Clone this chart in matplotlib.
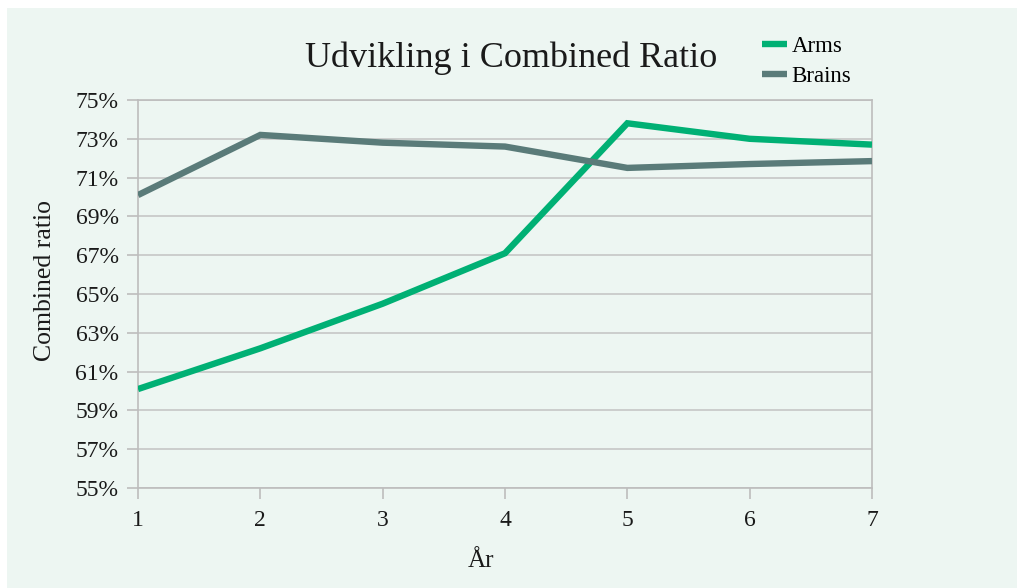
import matplotlib
matplotlib.use("Agg")
import matplotlib.pyplot as plt
from matplotlib.patches import Rectangle
from matplotlib.ticker import FuncFormatter

years = [1, 2, 3, 4, 5, 6, 7]
arms = [60.1, 62.2, 64.5, 67.1, 73.8, 73.0, 72.7]
brains = [70.1, 73.2, 72.8, 72.6, 71.5, 71.7, 71.85]
yticks = list(range(55, 76, 2))

plt.rcParams['font.family'] = ['Liberation Serif', 'DejaVu Serif']

W, H = 1017, 588
fig = plt.figure(figsize=(W / 100, H / 100), dpi=100)
fig.patch.set_facecolor('white')
bg = '#EDF6F2'
fig.patches.append(Rectangle((7 / W, 0), 1, (H - 8) / H, transform=fig.transFigure,
                             facecolor=bg, edgecolor='none', zorder=-10))

ax = fig.add_axes([138 / W, 1 - 488 / H, (872 - 138) / W, (488 - 100) / H])
ax.set_zorder(1)
ax.set_facecolor(bg)
ax.plot(years, arms, color='#00B074', lw=4.6, solid_capstyle='butt', solid_joinstyle='miter', label='Arms', zorder=3)
ax.plot(years, brains, color='#5A7B79', lw=4.6, solid_capstyle='butt', solid_joinstyle='miter', label='Brains', zorder=3)

ax.set_xlim(1, 7)
ax.set_ylim(55, 75)
ax.set_xticks(years)
ax.set_yticks(yticks)
ax.yaxis.set_major_formatter(FuncFormatter(lambda v, p: f"{int(v)}%"))
ax.grid(axis='y', color='#C6C6C6', lw=1.2)
ax.set_axisbelow(True)
for s in ax.spines.values():
    s.set_color('#BDBDBD')
    s.set_linewidth(1.2)
ax.tick_params(axis='both', colors='#BDBDBD', labelcolor='#1a1a1a', length=8, width=1.2, labelsize=17)
ax.tick_params(axis='x', pad=8)
ax.tick_params(axis='y', pad=6)

fig.text(511 / W, 1 - 58 / H, 'Udvikling i Combined Ratio', ha='center', va='center', fontsize=26, color='#1a1a1a')
fig.text(45 / W, 1 - 281 / H, 'Combined ratio', ha='center', va='center', rotation=90, fontsize=18.5, color='#1a1a1a')
fig.text(481 / W, 1 - 561 / H, 'År', ha='center', va='center', fontsize=18, color='#1a1a1a')

leg = ax.legend(loc='upper left', bbox_to_anchor=(762 / W, 1 - 36 / H), bbox_transform=fig.transFigure,
                frameon=False, fontsize=16.5, handlelength=1.1, handletextpad=0.2, labelspacing=0.4,
                borderaxespad=0, borderpad=0)

fig.savefig('out.png', dpi=100, facecolor=fig.get_facecolor())
